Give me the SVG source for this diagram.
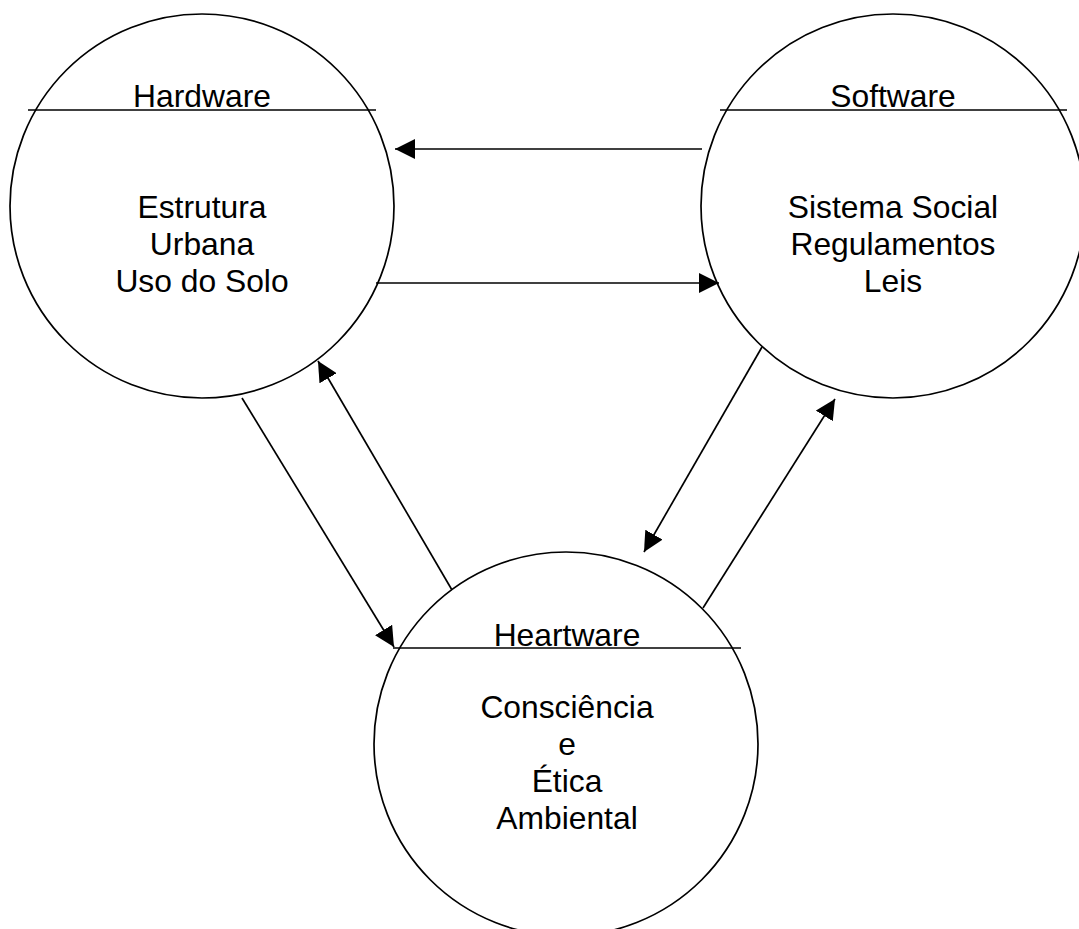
<svg xmlns="http://www.w3.org/2000/svg" width="1079" height="929" viewBox="0 0 1079 929">
  <style>
    .ring { fill: none; stroke: #000; stroke-width: 1.7; }
    .rule { stroke: #000; stroke-width: 1.5; }
    .conn { stroke: #000; stroke-width: 1.7; fill: none; marker-end: url(#head); }
    text { font-family: "Liberation Sans", Arial, sans-serif; font-size: 31.8px; fill: #000; text-anchor: middle; }
  </style>
  <defs>
    <marker id="head" markerUnits="userSpaceOnUse" markerWidth="21" markerHeight="20" refX="20" refY="10" orient="auto">
      <path d="M0,0 L20,10 L0,20 z" fill="#000"/>
    </marker>
  </defs>
  <rect width="1079" height="929" fill="#fff"/>

  <g id="hardware">
    <circle class="ring" cx="202" cy="206" r="192"/>
    <line class="rule" x1="28" y1="110" x2="376" y2="110"/>
    <text x="202" y="107">Hardware</text>
    <text x="202" y="218">Estrutura</text>
    <text x="202" y="255">Urbana</text>
    <text x="202" y="292">Uso do Solo</text>
  </g>

  <g id="software">
    <circle class="ring" cx="893" cy="206" r="192"/>
    <line class="rule" x1="720" y1="110" x2="1067" y2="110"/>
    <text x="893" y="107">Software</text>
    <text x="893" y="218">Sistema Social</text>
    <text x="893" y="255">Regulamentos</text>
    <text x="893" y="292">Leis</text>
  </g>

  <g id="heartware">
    <circle class="ring" cx="566" cy="744" r="192"/>
    <line class="rule" x1="393" y1="648" x2="741" y2="648"/>
    <text x="567" y="646">Heartware</text>
    <text x="567" y="718">Consciência</text>
    <text x="567" y="755">e</text>
    <text x="567" y="792">Ética</text>
    <text x="567" y="829">Ambiental</text>
  </g>

  <g id="connectors">
    <line class="conn" x1="702" y1="149" x2="395" y2="149"/>
    <line class="conn" x1="376" y1="283" x2="719" y2="283"/>
    <line class="conn" x1="242" y1="398" x2="394" y2="647"/>
    <line class="conn" x1="452" y1="590" x2="318" y2="361"/>
    <line class="conn" x1="762" y1="347" x2="644" y2="552"/>
    <line class="conn" x1="703" y1="608" x2="835" y2="399"/>
  </g>
</svg>
